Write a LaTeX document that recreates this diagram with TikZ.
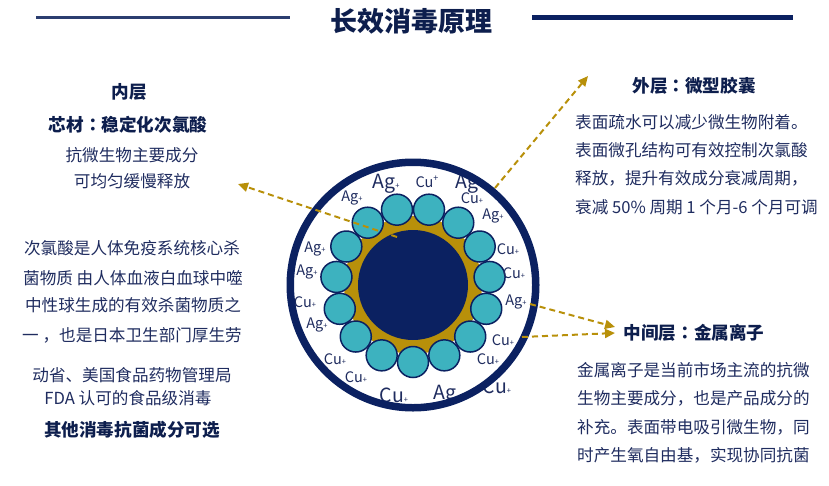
\documentclass[tikz,border=0pt]{standalone}
\usepackage{fontspec}
\setmainfont{Noto Sans CJK SC}
\newfontfamily\tcfont{Noto Sans CJK TC}
\usetikzlibrary{arrows.meta}
\definecolor{navy}{HTML}{0B2161}
\definecolor{txtc}{HTML}{1F2C5F}
\definecolor{headc}{HTML}{0D1E4D}
\definecolor{tealc}{HTML}{3DB2BF}
\definecolor{goldc}{HTML}{B8900A}
\newcommand\pl{\raisebox{0pt}{\fontsize{7.5}{7.5}\selectfont+}}
\newcommand\plsup{\raisebox{5.5pt}{\fontsize{9}{9}\selectfont+}}
\newcommand\ccolon{{\tcfont\bfseries ：}}
\begin{document}
\begin{tikzpicture}[x=1pt,y=-1pt,
  body/.style={inner sep=0pt, text=txtc, font=\fontsize{16.6}{18}\selectfont},
  headtxt/.style={inner sep=0pt, text=headc, font=\fontsize{17.6}{19}\selectfont\bfseries},
  ion/.style={inner sep=0pt, text=txtc, font=\fontsize{14.5}{15}\selectfont},
  ionbig/.style={inner sep=0pt, text=txtc, font=\fontsize{19.5}{20}\selectfont},
  sphere/.style={circle, fill=tealc, draw=navy, line width=1.5pt, minimum size=31pt, inner sep=0pt},
  goldarrow/.style={draw=goldc, line width=2pt, dash pattern=on 6pt off 4pt, -{Triangle[length=10pt,width=9pt,fill=goldc]}},
]
\useasboundingbox (0,0) rectangle (829,485);
% title
\node[inner sep=0pt, text=headc, font=\fontsize{27}{28}\selectfont\bfseries] (title) at (411,21.5) {长效消毒原理};
\coordinate (tl1) at (36,17); \coordinate (tl2) at (290,17);
\coordinate (tr1) at (532,17); \coordinate (tr2) at (793,17);
\draw[color={rgb,255:red,43;green,62;blue,112}, line width=3pt] (tl1) -- (tl2);
\draw[navy, line width=5pt] (tr1) -- (tr2);

% capsule
\fill[white] (413,285) circle (123);
\node[circle, fill=goldc, minimum size=138pt, inner sep=0pt] (goldring) at (413,285) {};
\node[circle, fill=navy, minimum size=110pt, inner sep=0pt] (core) at (413,285) {};
\foreach \i in {0,...,14}{
  \node[sphere] (s\i) at ({413+77*cos(-90+24*\i)}, {285-77*sin(-90+24*\i)}) {};
}
% ion labels
\node[ionbig] (l1) at (386,184) {Ag\pl};
\node[ion] (l2) at (427,182) {Cu\plsup};
\node[ionbig] (l3) at (467,184) {Ag};
\node[ion] (l4) at (352,198) {Ag\pl};
\node[ion] (l5) at (472,198) {Cu\pl};
\node[ion] (l6) at (493,216) {Ag\pl};
\node[ion] (l7) at (315,249) {Ag\pl};
\node[ion] (l8) at (508,249) {Cu\pl};
\node[ion] (l9) at (307,272) {Ag\pl};
\node[ion] (l10) at (514,273) {Cu\pl};
\node[ion] (l11) at (305,302) {Cu\pl};
\node[ion] (l12) at (516,302) {Ag\pl};
\node[ion] (l13) at (317,325) {Ag\pl};
\node[ion] (l14) at (503,340) {Cu\pl};
\node[ion] (l15) at (335,359) {Cu\pl};
\node[ion] (l16) at (488,359) {Cu\pl};
\node[ion] (l17) at (356,377) {Cu\pl};
\node[ionbig] (l18) at (497,386) {Cu\pl};
\node[ionbig] (l19) at (394,395) {Cu\pl};
\node[ionbig] (l20) at (445,395) {Ag};
% outer shell
\draw[navy, line width=7.5pt] (413,285) circle (122.75);

% left texts
\node[headtxt] (inL) at (129,92) {内层};
\node[headtxt] (inM) at (128,125) {芯材\ccolon 稳定化次氯酸};
\node[body] (inA) at (132,155) {抗微生物主要成分};
\node[body] (inB) at (132,181) {可均匀缓慢释放};
\node[body] (p1) at (132,248) {次氯酸是人体免疫系统核心杀};
\node[body] (p2) at (133,278) {菌物质 由人体血液白血球中噬};
\node[body] (p3) at (133,305) {中性球生成的有效杀菌物质之};
\node[body] (p4) at (132,335) {一 ，也是日本卫生部门厚生劳};
\node[body] (p5) at (132,375) {动省、美国食品药物管理局};
\node[body] (p6) at (128,398) {FDA 认可的食品级消毒};
\node[headtxt] (p7) at (132,430) {其他消毒抗菌成分可选};

% right top
\node[headtxt] (outT) at (694,86) {外层\ccolon 微型胶囊};
\node[body, anchor=west] (o1) at (575,122) {表面疏水可以减少微生物附着。};
\node[body, anchor=west] (o2) at (575,150) {表面微孔结构可有效控制次氯酸};
\node[body, anchor=west] (o3) at (575,178) {释放，提升有效成分衰减周期，};
\node[body, anchor=west] (o4) at (575,207) {衰减 50\% 周期 1 个月-6 个月可调};

% right bottom
\node[headtxt] (midT) at (694,333) {中间层\ccolon 金属离子};
\node[body, anchor=west] (m1) at (577,370) {金属离子是当前市场主流的抗微};
\node[body, anchor=west] (m2) at (577,398) {生物主要成分，也是产品成分的};
\node[body, anchor=west] (m3) at (577,427) {补充。表面带电吸引微生物，同};
\node[body, anchor=west] (m4) at (577,455) {时产生氧自由基，实现协同抗菌};

% arrows
\coordinate (a1s) at (397,237); \coordinate (a1e) at (238,184);
\coordinate (a2s) at (495,188); \coordinate (a2e) at (588,76);
\coordinate (a3s) at (530,304); \coordinate (a3e) at (615,327);
\coordinate (a4s) at (522,337); \coordinate (a4e) at (615,333);
\draw[goldarrow] (a1s) -- (a1e);
\draw[goldarrow] (a2s) -- (a2e);
\draw[goldarrow] (a3s) -- (a3e);
\draw[goldarrow] (a4s) -- (a4e);
\end{tikzpicture}
\end{document}
